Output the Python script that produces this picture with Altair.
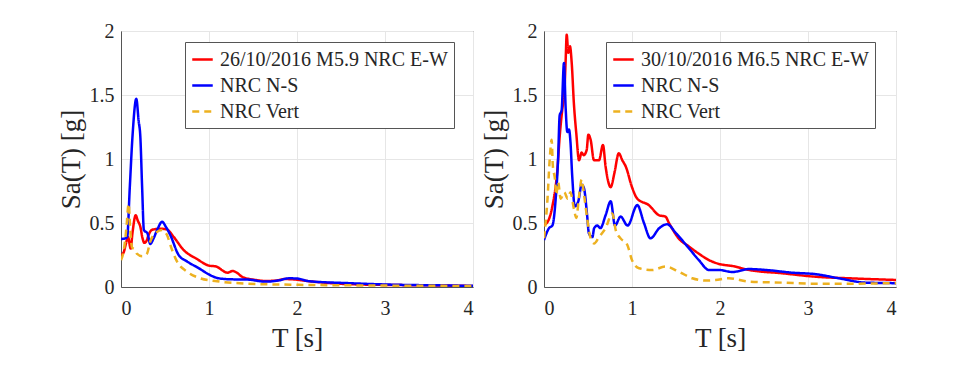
import altair as alt
import pandas as pd

# ---- Left panel: 26/10/2016 M5.9 ----
L_EW_T = [0.0, 0.03, 0.053, 0.08, 0.11, 0.13, 0.167, 0.19, 0.22, 0.245, 0.265, 0.29, 0.31, 0.34, 0.37, 0.45, 0.52, 0.6, 0.71, 0.86, 1.0, 1.08, 1.21, 1.27, 1.32, 1.38, 1.53, 1.64, 1.76, 1.86, 1.95, 2.14, 2.59, 3.16, 3.6, 4.0]
L_EW_S = [0.25, 0.27, 0.33, 0.39, 0.30, 0.42, 0.56, 0.52, 0.47, 0.38, 0.345, 0.36, 0.40, 0.44, 0.45, 0.455, 0.45, 0.39, 0.29, 0.22, 0.167, 0.16, 0.112, 0.125, 0.11, 0.078, 0.055, 0.047, 0.05, 0.062, 0.06, 0.045, 0.022, 0.015, 0.012, 0.008]

L_NS_T = [0.0, 0.05, 0.07, 0.1, 0.13, 0.174, 0.2, 0.22, 0.24, 0.26, 0.3, 0.333, 0.37, 0.42, 0.466, 0.51, 0.56, 0.655, 0.75, 0.886, 1.01, 1.11, 1.25, 1.44, 1.64, 1.78, 1.91, 2.0, 2.14, 2.59, 3.16, 3.6, 4.0]
L_NS_S = [0.375, 0.38, 0.39, 0.78, 1.17, 1.47, 1.30, 1.17, 0.78, 0.445, 0.42, 0.336, 0.38, 0.46, 0.51, 0.47, 0.406, 0.25, 0.20, 0.146, 0.094, 0.068, 0.06, 0.058, 0.042, 0.05, 0.068, 0.066, 0.045, 0.03, 0.017, 0.013, 0.009]

L_V_T = [0.0, 0.03, 0.06, 0.087, 0.105, 0.125, 0.16, 0.18, 0.24, 0.295, 0.33, 0.39, 0.466, 0.52, 0.58, 0.636, 0.75, 0.9, 1.09, 1.44, 2.02, 2.78, 4.0]
L_V_S = [0.21, 0.28, 0.45, 0.65, 0.45, 0.31, 0.29, 0.26, 0.24, 0.26, 0.35, 0.42, 0.445, 0.41, 0.29, 0.20, 0.12, 0.068, 0.045, 0.026, 0.017, 0.012, 0.008]

# ---- Right panel: 30/10/2016 M6.5 ----
R_EW_T = [0.0, 0.05, 0.095, 0.15, 0.18, 0.21, 0.23, 0.245, 0.258, 0.276, 0.295, 0.315, 0.34, 0.367, 0.398, 0.428, 0.45, 0.485, 0.504, 0.53, 0.568, 0.625, 0.67, 0.70, 0.758, 0.80, 0.85, 0.89, 0.93, 1.0, 1.06, 1.19, 1.31, 1.38, 1.42, 1.53, 1.65, 1.76, 1.875, 1.99, 2.14, 2.33, 2.71, 3.09, 3.47, 4.0]
R_EW_S = [0.484, 0.52, 0.63, 0.90, 1.19, 1.40, 1.50, 1.75, 1.97, 1.83, 1.88, 1.75, 1.43, 1.20, 0.99, 1.05, 1.03, 1.07, 1.19, 1.15, 0.99, 0.99, 1.11, 0.94, 0.78, 0.89, 1.045, 0.99, 0.94, 0.78, 0.69, 0.64, 0.56, 0.55, 0.50, 0.38, 0.315, 0.26, 0.21, 0.18, 0.164, 0.133, 0.107, 0.08, 0.068, 0.055]

R_NS_T = [0.0, 0.057, 0.095, 0.133, 0.16, 0.178, 0.2, 0.227, 0.246, 0.265, 0.284, 0.30, 0.32, 0.35, 0.39, 0.428, 0.455, 0.49, 0.51, 0.55, 0.57, 0.606, 0.64, 0.70, 0.758, 0.807, 0.87, 0.95, 1.06, 1.136, 1.21, 1.31, 1.40, 1.50, 1.65, 1.76, 1.875, 1.99, 2.14, 2.33, 2.52, 2.82, 3.09, 3.35, 3.66, 4.0]
R_NS_S = [0.367, 0.46, 0.48, 0.69, 1.0, 1.34, 1.38, 1.75, 1.40, 1.21, 1.23, 1.14, 0.875, 0.63, 0.67, 0.80, 0.77, 0.56, 0.42, 0.39, 0.46, 0.48, 0.46, 0.56, 0.67, 0.48, 0.55, 0.48, 0.64, 0.50, 0.38, 0.46, 0.49, 0.42, 0.30, 0.21, 0.133, 0.133, 0.117, 0.14, 0.133, 0.112, 0.10, 0.068, 0.034, 0.03]

R_V_T = [0.0, 0.04, 0.065, 0.087, 0.1, 0.125, 0.14, 0.16, 0.19, 0.23, 0.27, 0.30, 0.34, 0.367, 0.40, 0.428, 0.455, 0.49, 0.53, 0.57, 0.625, 0.70, 0.776, 0.815, 0.87, 0.946, 1.0, 1.08, 1.23, 1.38, 1.53, 1.685, 1.84, 1.95, 2.1, 2.33, 2.71, 3.09, 3.47, 4.0]
R_V_S = [0.38, 0.69, 1.0, 1.15, 0.95, 0.84, 0.72, 0.82, 0.69, 0.74, 0.69, 0.74, 0.61, 0.54, 0.72, 0.84, 0.72, 0.54, 0.38, 0.34, 0.39, 0.46, 0.575, 0.445, 0.38, 0.33, 0.21, 0.146, 0.133, 0.16, 0.12, 0.068, 0.05, 0.055, 0.068, 0.042, 0.034, 0.026, 0.026, 0.03]

L_LABELS = ["26/10/2016 M5.9 NRC E-W", "NRC N-S", "NRC Vert"]
R_LABELS = ["30/10/2016 M6.5 NRC E-W", "NRC N-S", "NRC Vert"]
X_TICKS = [0, 1, 2, 3, 4]
Y_TICKS = [0, 0.5, 1, 1.5, 2]

COLORS = ["#ff0000", "#0000ff", "#EDB120"]
DASHES = [[1, 0], [1, 0], [7, 5]]
FONT = "Liberation Serif"


def frame(labels, series):
    rows = []
    for lab, (ts, ss) in zip(labels, series):
        for t, s in zip(ts, ss):
            rows.append({"T": t, "Sa": s, "series": lab})
    return pd.DataFrame(rows)


def panel(labels, series, lx):
    df = frame(labels, series)
    leg = alt.Legend(title=None, orient="none", legendX=lx, legendY=11)
    return (
        alt.Chart(df)
        .mark_line(strokeWidth=2.5, interpolate="monotone", clip=True)
        .encode(
            x=alt.X("T:Q", scale=alt.Scale(domain=[0, 4], nice=False),
                    axis=alt.Axis(values=X_TICKS, format="d", title="T [s]",
                                  labelFont=FONT, titleFont=FONT)),
            y=alt.Y("Sa:Q", scale=alt.Scale(domain=[0, 2], nice=False),
                    axis=alt.Axis(values=Y_TICKS, labelExpr="'' + datum.value", title="Sa(T) [g]",
                                  labelFont=FONT, titleFont=FONT)),
            color=alt.Color("series:N", scale=alt.Scale(domain=labels, range=COLORS), legend=leg),
            strokeDash=alt.StrokeDash("series:N", scale=alt.Scale(domain=labels, range=DASHES), legend=leg),
        )
        .properties(width=352, height=256)
    )


left = panel(L_LABELS, [(L_EW_T, L_EW_S), (L_NS_T, L_NS_S), (L_V_T, L_V_S)], 64)
right = panel(R_LABELS, [(R_EW_T, R_EW_S), (R_NS_T, R_NS_S), (R_V_T, R_V_S)], 62)

chart = (
    alt.hconcat(left, right, spacing=5)
    .resolve_scale(color="independent", strokeDash="independent")
    .resolve_legend(color="independent", strokeDash="independent")
    .properties(padding={"left": 48, "top": 12, "right": 5, "bottom": 5})
    .configure(font=FONT)
    .configure_view(stroke="#555555", strokeWidth=1)
    .configure_axis(
        grid=True, gridColor="#e6e6e6", gridWidth=1,
        domainColor="#555555", ticks=False, tickSize=0,
        labelFont=FONT, labelFontSize=20, labelColor="#262626",
        titleFont=FONT, titleFontSize=27, titleFontWeight="normal", titleColor="#262626",
    )
    .configure_axisX(labelPadding=11, titlePadding=7)
    .configure_axisY(labelPadding=7, titlePadding=4)
    .configure_legend(
        symbolType="stroke", symbolSize=420, symbolStrokeWidth=2.5,
        labelFont=FONT, labelFontSize=20, labelColor="#262626", labelLimit=400,
        strokeColor="#555555", fillColor="white", padding=6, rowPadding=4,
        cornerRadius=0, labelOffset=6,
    )
)

chart.save("out.html", embed_options={"renderer": "svg", "actions": False})
